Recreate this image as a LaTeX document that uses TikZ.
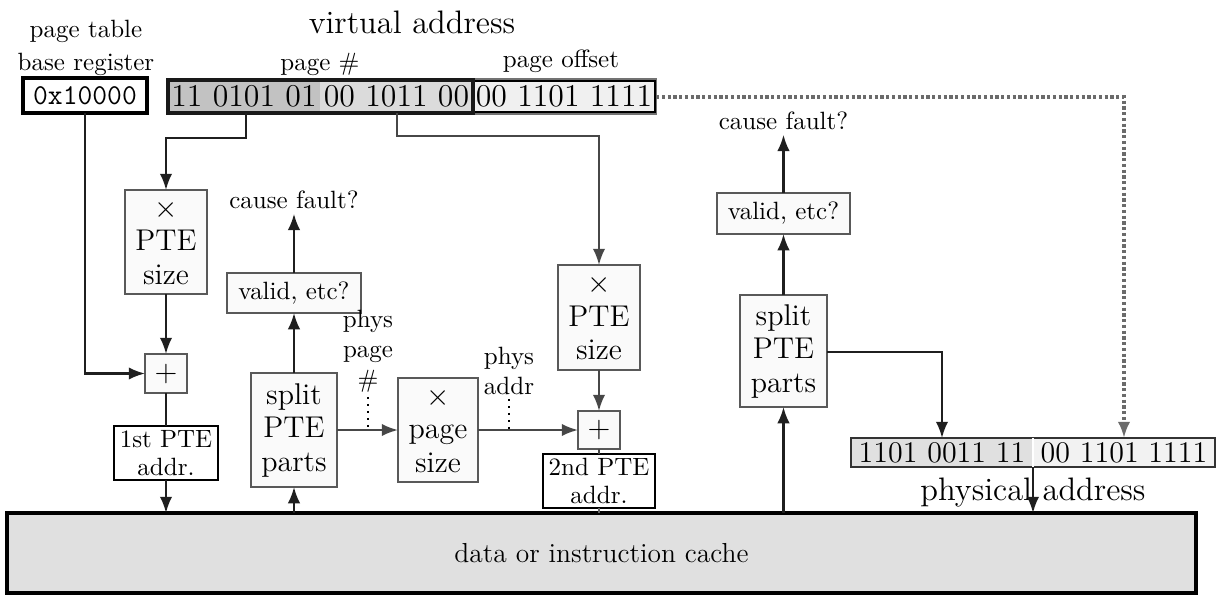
\documentclass[tikz,border=0pt]{standalone}
\usetikzlibrary{arrows.meta,calc}
\newcommand\boxfont{\fontsize{12}{13.4}\selectfont}
\newcommand\titlefont{\fontsize{13}{15}\selectfont}
\begin{document}
\begin{tikzpicture}[x=0.4pt,y=-0.4pt,
  >={Latex[length=6.5pt,width=5pt]},
  % a rectangle given by its corners x1/y1/x2/y2
  rect/.style args={#1/#2/#3/#4}{rectangle, inner sep=0pt, outer sep=0pt,
    at={({(#1+#3)/2},{(#2+#4)/2})},
    minimum width={(#3-#1)*0.4pt}, minimum height={(#4-#2)*0.4pt}},
  conn/.style={line width=0.9pt, draw=black!88, ->},
  gconn/.style={line width=0.9pt, draw=black!72, ->},
  gline/.style={line width=0.9pt, draw=black!72},
  thinline/.style={line width=0.5pt, draw=black!60},
  offconn/.style={line width=1.3pt, draw=black!58, dash pattern=on 1.3pt off 1pt, ->},
  tick/.style={line width=0.8pt, dotted},
  op/.style={draw=black!65, line width=0.6pt, fill=black!2, align=center, font=\boxfont},
  opsmall/.style={op, font=\normalsize},
  addrbox/.style={draw=black, line width=1.1pt, fill=white, align=center,
    font=\fontsize{10}{11.5}\selectfont},
  bits/.style={font=\large},
  vbits/.style={font=\fontsize{12.7}{14}\selectfont},
  lbl/.style={inner sep=0pt, align=center},
]
\useasboundingbox (0,0) rectangle (1216,596);

% ---- titles and labels
\node[lbl, anchor=north] (ptbr) at (86,20) {page table\\[1pt]base register};
\node[lbl, anchor=base, font=\titlefont] (vtitle) at (412,33) {virtual address};
\node[lbl, anchor=base] (pnlab) at (320,70) {page \#};
\node[lbl, anchor=base] (polab) at (561,67) {page offset};

% ---- page table base register
\node[rect=23/78/147/113, draw=black, line width=1.6pt, fill=white,
  font=\ttfamily\fontsize{11.5}{13}\selectfont] (ptbase) {0x10000};

% ---- virtual address
\node[rect=167/79/656/114, draw=black!55, line width=0.6pt] (va) {};
\node[rect=473/81/655/112, vbits, fill=black!6, draw=black, line width=0.5pt] (pgoff) {00 1101 1111};
\node[rect=168/80/320/113, vbits, fill=black!24] (pgA) {11 0101 01};
\node[rect=320/80/473/113, vbits, fill=black!14] (pgB) {00 1011 00};
\node[rect=168/80/473/113, draw=black!90, line width=1.4pt] (pgnum) {};

% ---- first level
\node[op, rect=125/190/207/294] (ps1) {$\times$\\PTE\\size};
\node[op, rect=145/354/187/393, font=\large] (plus1) {$+$};
\node[addrbox, rect=114/426/218/480] (addr1) {1st PTE\\addr.};
\node[opsmall, rect=227/273/361/313] (valid1) {valid, etc?};
\node[lbl, anchor=base] (cause1) at (294,208) {cause fault?};
\node[op, rect=251/373/337/487] (split1) {split\\PTE\\parts};
\node[lbl, anchor=south] (pplab) at (368,393) {phys\\page\\\#};
\node[op, rect=398/378/478/482] (pgsize) {$\times$\\page\\size};
\node[lbl, anchor=south] (palab) at (509,395) {phys\\addr};

% ---- second level
\node[op, rect=558/265/640/370] (ps2) {$\times$\\PTE\\size};
\node[op, rect=578/411/620/449, font=\large] (plus2) {$+$};
\node[addrbox, rect=543/454/655/508] (addr2) {2nd PTE\\addr.};
\node[opsmall, rect=717/193/850/234] (valid2) {valid, etc?};
\node[lbl, anchor=base] (cause2) at (783.5,129) {cause fault?};
\node[op, rect=740/295/827/407] (split2) {split\\PTE\\parts};

% ---- physical address
\node[rect=851/438/1033/467, bits, fill=black!12] (physA) {1101 0011 11};
\node[rect=1033/438/1215/467, bits, fill=black!5] (physB) {00 1101 1111};
\node[rect=851/438/1215/467, draw=black!80, line width=0.6pt] (phys) {};
\draw[white, line width=0.5pt] (physA.north east) -- (physA.south east);
\node[lbl, anchor=base, font=\titlefont] (physlab) at (1033,500) {physical address};

% ---- cache
\node[rect=7/513/1196/593, draw=black, line width=1.4pt, fill=black!12,
  font=\fontsize{11}{13}\selectfont] (cache) {data or instruction cache};

% ---- connectors
\coordinate (t1) at (246,138);
\coordinate (t2) at (397,136);
\coordinate (t3) at (942,352);
\coordinate (t4) at (1124,97);

\draw[conn] (pgnum.south -| t1) -- (t1) -| (ps1.north);
\draw[gconn] (pgnum.south -| t2) -- (t2) -| (ps2.north);
\draw[conn] (ptbase.south) |- (plus1.west);
\draw[conn] (ps1.south) -- (plus1.north);
\draw[line width=0.9pt, draw=black!88] (plus1.south) -- (addr1.north);
\draw[conn] (addr1.south) -- (addr1.south |- cache.north);

\draw[conn] (cache.north -| split1.south) -- (split1.south);
\draw[conn] (split1.north) -- (valid1.south);
\draw[conn, shorten >=2pt] (valid1.north) -- (cause1.south);
\draw[gconn] (split1.east) -- (split1.east -| pgsize.west);
\draw[gconn] (pgsize.east) -- (pgsize.east -| plus2.west);
\draw[tick] ([yshift=-1.5pt]pplab.south) -- (pplab.south |- split1.east);
\draw[tick] ([yshift=-1.5pt]palab.south) -- (palab.south |- pgsize.east);

\draw[gconn] (ps2.south) -- (plus2.north);
\draw[gline] (plus2.south) -- (addr2.north);
\draw[thinline] (addr2.south) -- (addr2.south |- cache.north);

\draw[conn] (cache.north -| split2.south) -- (split2.south);
\draw[conn] (split2.north) -- (valid2.south);
\draw[conn, shorten >=2pt] (valid2.north) -- (cause2.south);
\draw[conn] (split2.east |- t3) -| (t3 |- phys.north);

\draw[offconn] (va.east |- t4) -| (t4 |- phys.north);
\draw[conn] (physA.south east) -- (physA.south east |- cache.north);
\end{tikzpicture}
\end{document}
